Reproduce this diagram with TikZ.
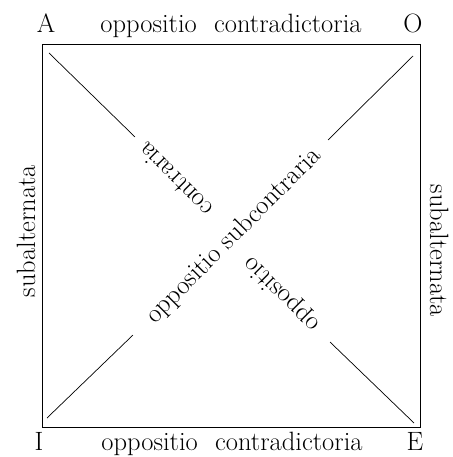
\documentclass[tikz,border=0pt]{standalone}
\usepackage{fontspec}
\setmainfont{Latin Modern Roman}
\begin{document}
\begin{tikzpicture}[x=1pt,y=-1pt,
  lbl/.style={inner sep=0pt,font=\fontsize{26.5}{30}\selectfont},
  edge/.style={line width=1pt},
  diag/.style={line width=0.7pt}]
\useasboundingbox (0,0) rectangle (452,457);
% square corners
\coordinate (tl) at (42,45);
\coordinate (tr) at (420,45);
\coordinate (bl) at (42,427);
\coordinate (br) at (420,427);
\draw[edge] (tl) -- (tr) -- (br) -- (bl) -- cycle;
% diagonal segment ends
\coordinate (ae1) at (49,53);
\coordinate (ae2) at (135,137);
\coordinate (ae3) at (330,342);
\coordinate (ae4) at (414,423);
\coordinate (io1) at (47,418);
\coordinate (io2) at (133,335);
\coordinate (io3) at (328,140);
\coordinate (io4) at (413,56);
\draw[diag] (ae1) -- (ae2);
\draw[diag] (ae3) -- (ae4);
\draw[diag] (io1) -- (io2);
\draw[diag] (io3) -- (io4);
% corner letters
\node[lbl,anchor=base] (A) at (46,33) {A};
\node[lbl,anchor=base] (O) at (413,33) {O};
\node[lbl,anchor=base] (I) at (39,450) {I};
\node[lbl,anchor=base] (E) at (415,450) {E};
% side labels
\node[lbl,anchor=base] (top) at (231,33) {oppositio\hspace{0.35em} contradictoria};
\node[lbl,anchor=base] (bot) at (232,450) {oppositio\hspace{0.35em} contradictoria};
\node[lbl,anchor=base,rotate=90] (left) at (35,231) {subalternata};
\node[lbl,anchor=base,rotate=-90] (right) at (430,251) {subalternata};
% diagonal labels
\node[lbl,rotate=45] (sub) at (234,236) {oppositio subcontraria};
\node[lbl,rotate=135] (opp) at (282,294) {oppositio};
\node[lbl,rotate=135] (con) at (175,180) {contraria};
\end{tikzpicture}
\end{document}
